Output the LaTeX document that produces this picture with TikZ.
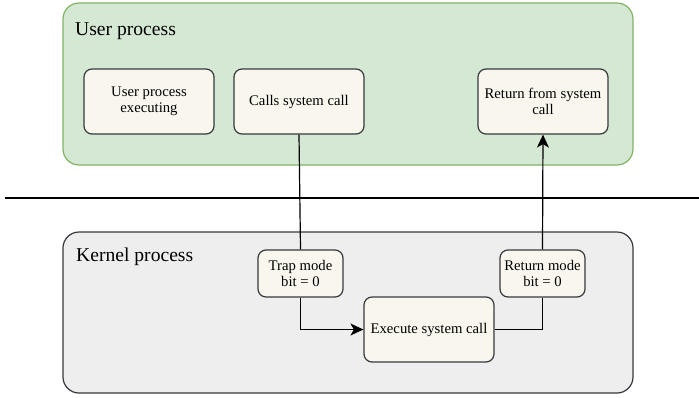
\documentclass[tikz,border=0pt]{standalone}
\usepackage{fontspec}
\setmainfont{Liberation Serif}
\usetikzlibrary{arrows.meta}
\definecolor{userfill}{HTML}{D5E8D4}
\definecolor{userline}{HTML}{82B366}
\definecolor{kernfill}{HTML}{EEEEEE}
\definecolor{kernline}{HTML}{36393D}
\definecolor{boxfill}{HTML}{F9F7ED}
\tikzset{
  region/.style={draw, rounded corners=16pt, line width=1.2pt, inner sep=0pt},
  stepbox/.style={draw=kernline, fill=boxfill, rounded corners=8pt, line width=1.2pt,
    align=center, inner sep=0pt, font=\fontsize{14.7}{16.2}\selectfont},
  heading/.style={anchor=base west, inner sep=0pt, font=\fontsize{19.6}{22}\selectfont},
  flow/.style={line width=1.2pt, -{Stealth[length=13pt,width=12pt,inset=3.5pt]}},
  plain/.style={line width=1.2pt}
}
\begin{document}
\begin{tikzpicture}[x=1pt,y=-1pt]
\useasboundingbox (0,0) rectangle (699,397);
\fill[white] (0,0) rectangle (699,397);

% separator between user space and kernel space
\draw[line width=1.2pt] (5,198) -- (699,198);

% containers
\draw[region, draw=userline, fill=userfill] (63,3) rectangle (633,165);
\node[heading] (ulabel) at (75,35) {User process};
\draw[region, draw=kernline, fill=kernfill] (63,232) rectangle (633,393);
\node[heading] (klabel) at (76,261) {Kernel process};

% user-space steps
\node[stepbox, minimum width=130pt, minimum height=65pt] (exec) at (149,101.5) {User process\\executing};
\node[stepbox, minimum width=130pt, minimum height=65pt] (calls) at (299,101.5) {Calls system call};
\node[stepbox, minimum width=130pt, minimum height=65pt] (ret) at (543,101.5) {Return from system\\call};

% kernel-space steps
\node[stepbox, minimum width=85pt, minimum height=47pt] (trap) at (300.5,273.5) {Trap mode\\bit = 0};
\node[stepbox, minimum width=85pt, minimum height=47pt] (rmode) at (542.5,273.5) {Return mode\\bit = 0};
\node[stepbox, minimum width=130pt, minimum height=65pt] (sys) at (429,329.5) {Execute system call};

% connectors
\draw[plain] (calls.south) -- (trap.north);
\draw[flow] (trap.south) |- (sys.west);
\draw[plain] (sys.east) -| (rmode.south);
\draw[flow] (rmode.north) -- (ret.south);
\end{tikzpicture}
\end{document}
